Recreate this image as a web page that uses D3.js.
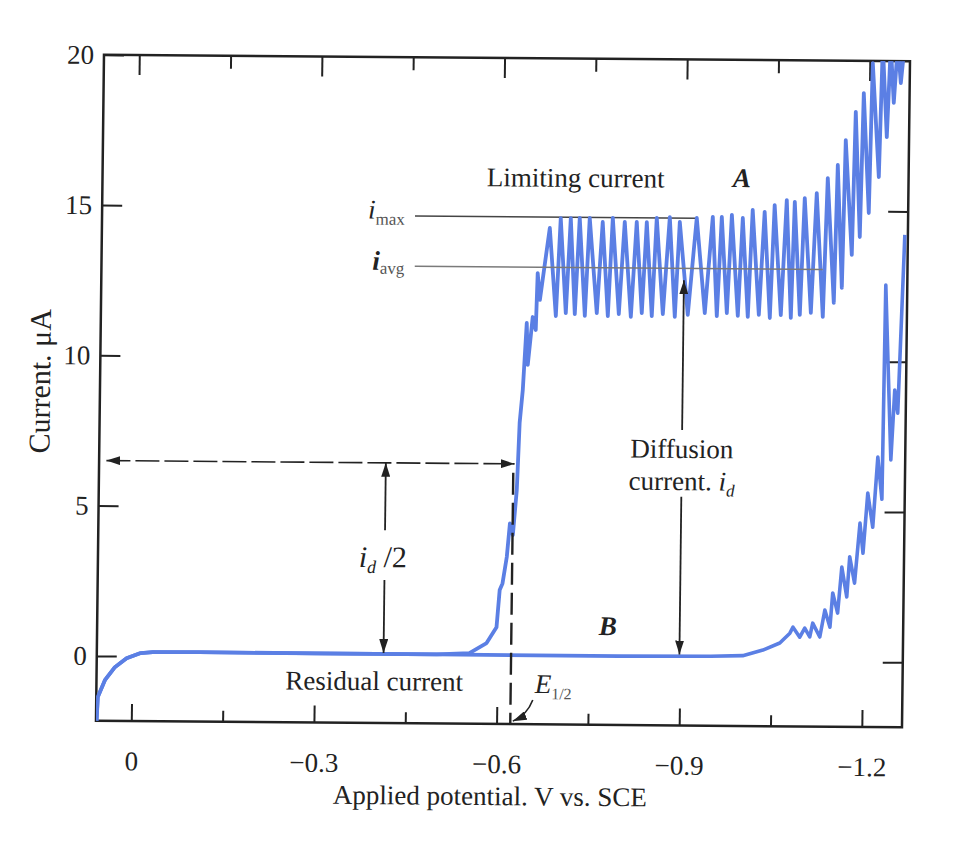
<!DOCTYPE html>
<html>
<head>
<meta charset="utf-8">
<script src="https://cdn.jsdelivr.net/npm/d3@7"></script>
<style>
  body { margin: 0; background: #fff; }
  svg { display: block; font-family: "Liberation Serif", "Times New Roman", serif; }
</style>
</head>
<body>
<svg width="960" height="861"></svg>
<script>
// potential in V vs. SCE, current in µA
const baseline = [
  [0.057,-2.16],[0.0555,-1.37],[0.044,-0.80],[0.028,-0.37],[0.009,-0.07],
  [-0.013,0.10],[-0.034,0.14],[-0.11,0.15],[-0.3,0.14],[-0.5,0.14]
];
const waveRise = [
  [-0.554,0.19],[-0.582,0.53],[-0.598,1.06],[-0.6025,2.30],[-0.607,2.52],[-0.6135,3.40],
  [-0.618,4.52],[-0.623,4.13],[-0.6286,5.63],[-0.630,6.53],[-0.632,7.87],[-0.6365,8.96],
  [-0.6417,11.19],[-0.6442,9.8],[-0.6514,11.39],[-0.6566,10.96],[-0.6587,12.85],[-0.6628,11.96]
];
const waveDrops = [
  [-0.6777,14.36],[-0.6893,11.43],[-0.6955,14.69],[-0.7056,11.53],[-0.7120,14.69],[-0.7204,11.50],
  [-0.7267,14.70],[-0.7369,11.44],[-0.7431,14.70],[-0.7565,11.54],[-0.7645,14.57],[-0.7747,11.44],
  [-0.7810,14.71],[-0.7927,11.51],[-0.8007,14.58],[-0.8125,11.42],[-0.8204,14.58],[-0.8304,11.55],
  [-0.8369,14.58],[-0.8469,11.45],[-0.8532,14.72],[-0.8650,11.52],[-0.8746,14.75],[-0.8847,11.43],
  [-0.8911,14.59],[-0.9060,11.50],[-0.9189,14.73],[-0.9339,11.57],[-0.9452,14.77],[-0.9537,11.47],
  [-0.9600,14.77],[-0.9701,11.57],[-0.9765,14.84],[-0.9882,11.48],[-0.9945,14.74],[-1.0046,11.45],
  [-1.0106,15.01],[-1.0227,11.52],[-1.0303,14.95],[-1.0408,11.42],[-1.0466,15.18],[-1.0588,11.52],
  [-1.0664,15.35],[-1.0753,11.43],[-1.0796,15.29],[-1.0900,11.53],[-1.0959,15.42],[-1.1081,11.60],
  [-1.1155,15.59],[-1.1278,11.47],[-1.1333,16.09],[-1.1456,11.94],[-1.1495,16.53],[-1.1585,12.44],
  [-1.1621,17.36],[-1.1742,13.54],[-1.1780,18.30],[-1.1870,14.14],[-1.1908,18.93],[-1.2013,14.94],
  [-1.2050,19.93],[-1.2171,16.14],[-1.2211,20.53],[-1.2294,17.47],[-1.2342,20.54],[-1.2402,18.61],
  [-1.2457,20.55],[-1.2514,19.27],[-1.2572,20.6],[-1.266,20.6]
];
const residualFlat = [[-0.8,0.13],[-0.95,0.15],[-1.003,0.18]];
const residualRise = [
  [-1.036,0.37],[-1.0636,0.61],[-1.08,0.94],[-1.085,1.14],[-1.0963,0.81],[-1.1043,1.11],
  [-1.1127,0.82],[-1.1173,1.28],[-1.1292,0.82],[-1.137,1.72],[-1.1457,1.15],[-1.1496,2.29],
  [-1.158,1.62],[-1.164,3.15],[-1.1727,2.16],[-1.1768,3.50],[-1.1852,2.62],[-1.193,4.62],
  [-1.1985,3.62],[-1.2052,5.62],[-1.214,4.49],[-1.221,6.82],[-1.2285,5.42],[-1.2307,12.55],
  [-1.2424,6.73],[-1.2475,9.06],[-1.2528,8.29],[-1.261,14.22]
];

const xMajor = [0, -0.3, -0.6, -0.9, -1.2],
      xMinor = [-0.15, -0.45, -0.75, -1.05],
      xTickLabels = ["0", "−0.3", "−0.6", "−0.9", "−1.2"];
const yLabelled = [0, 5, 10, 15, 20],
      yRightTicks = [0, 5, 10, 15];

// annotation levels (µA) and potentials (V)
const iMax = 14.72, iAvg = 13.05, iHalf = 6.5, eHalf = -0.6225;

const blue = "#5b7fe4", ink = "#222";

var svg = d3.select("svg");

var x = d3.scaleLinear().domain([0.058, -1.266]).range([100, 906]);
var y = d3.scaleLinear().domain([-2.16, 20]).range([724, 58]);

// the scanned page is slightly skewed
var g = svg.append("g").attr("transform", "matrix(1,0.008,-0.012,1,4.68,-4)");

var defs = svg.append("defs");
defs.append("marker")
    .attr("id", "arrow")
    .attr("viewBox", "0 0 14 9")
    .attr("refX", 14).attr("refY", 4.5)
    .attr("markerWidth", 14).attr("markerHeight", 9)
    .attr("markerUnits", "userSpaceOnUse")
    .attr("orient", "auto-start-reverse")
  .append("path").attr("d", "M0,0L14,4.5L0,9Z").attr("fill", ink);
defs.append("clipPath").attr("id", "plot")
  .append("rect")
    .attr("x", x(0.058)).attr("y", y(20))
    .attr("width", x(-1.266) - x(0.058)).attr("height", y(-2.16) - y(20));

const styleAxis = (sel) => {
  sel.select(".domain").remove();
  sel.attr("font-family", "Liberation Serif").attr("font-size", 27);
  sel.selectAll(".tick line").attr("stroke", ink).attr("stroke-width", 2);
  sel.selectAll(".tick text").attr("fill", ink);
};

g.append("g").attr("transform", `translate(0,${y(-2.16)})`)
    .call(d3.axisBottom(x).tickValues(xMajor).tickSize(-17).tickPadding(30)
      .tickFormat((d, i) => xTickLabels[i]))
    .call(styleAxis);
g.append("g").attr("transform", `translate(0,${y(-2.16)})`)
    .call(d3.axisBottom(x).tickValues(xMinor).tickSize(-11).tickFormat(""))
    .call(styleAxis);
g.append("g").attr("transform", `translate(0,${y(20)})`)
    .call(d3.axisTop(x).tickValues(xMajor).tickSize(-20).tickFormat(""))
    .call(styleAxis);
g.append("g").attr("transform", `translate(0,${y(20)})`)
    .call(d3.axisTop(x).tickValues(xMinor).tickSize(-13).tickFormat(""))
    .call(styleAxis);
g.append("g").attr("transform", `translate(${x(0.058)},0)`)
    .call(d3.axisLeft(y).tickValues(yLabelled).tickSize(-20).tickPadding(10))
    .call(styleAxis);
g.append("g").attr("transform", `translate(${x(-1.266)},0)`)
    .call(d3.axisRight(y).tickValues(yRightTicks).tickSize(-20).tickFormat(""))
    .call(styleAxis);

g.append("rect")
    .attr("x", x(0.058)).attr("y", y(20))
    .attr("width", x(-1.266) - x(0.058)).attr("height", y(-2.16) - y(20))
    .attr("fill", "none").attr("stroke", ink).attr("stroke-width", 2.5);

// axis titles
g.append("text")
    .attr("x", x(-0.5905)).attr("y", y(-4.86))
    .attr("text-anchor", "middle").attr("font-size", 27).attr("fill", ink)
    .text("Applied potential. V vs. SCE");
g.append("text")
    .attr("transform", `translate(${x(0.1401)},${y(9.12)}) rotate(-90)`)
    .attr("text-anchor", "middle").attr("font-size", 30).attr("fill", ink)
    .text("Current. μA");

// i_max reference line
g.append("line")
    .attr("x1", x(-0.456)).attr("x2", x(-0.918))
    .attr("y1", y(iMax)).attr("y2", y(iMax))
    .attr("stroke", "#444").attr("stroke-width", 1.3);

var line = d3.line().x(d => x(d[0])).y(d => y(d[1]));

var curves = g.append("g").attr("clip-path", "url(#plot)");
curves.append("path")
    .attr("d", line(baseline.concat(residualFlat, residualRise)))
    .attr("fill", "none").attr("stroke", blue).attr("stroke-width", 3.6)
    .attr("stroke-linejoin", "round");
curves.append("path")
    .attr("d", line(baseline.concat(waveRise, waveDrops)))
    .attr("fill", "none").attr("stroke", blue).attr("stroke-width", 3.8)
    .attr("stroke-linejoin", "round");

g.append("line")
    .attr("x1", x(-0.4566)).attr("x2", x(-1.1268))
    .attr("y1", y(iAvg)).attr("y2", y(iAvg))
    .attr("stroke", "#7a7a7a").attr("stroke-width", 1.6);

// half-wave construction
g.append("line")
    .attr("x1", x(0.046)).attr("x2", x(-0.6245))
    .attr("y1", y(iHalf)).attr("y2", y(iHalf))
    .attr("stroke", ink).attr("stroke-width", 1.6)
    .attr("stroke-dasharray", "24,5")
    .attr("marker-start", "url(#arrow)").attr("marker-end", "url(#arrow)");
g.append("line")
    .attr("x1", x(eHalf)).attr("x2", x(eHalf))
    .attr("y1", y(iHalf - 0.3)).attr("y2", y(-2.16))
    .attr("stroke", ink).attr("stroke-width", 2.4)
    .attr("stroke-dasharray", "22,8");

const arrow = (v, i1, i2) => g.append("line")
    .attr("x1", x(v)).attr("x2", x(v))
    .attr("y1", y(i1)).attr("y2", y(i2))
    .attr("stroke", ink).attr("stroke-width", 1.8)
    .attr("marker-end", "url(#arrow)");

arrow(-0.413, 4.26, iHalf);
arrow(-0.413, 2.60, 0.17);
arrow(-0.899, 7.67, iAvg - 0.4);
arrow(-0.899, 5.45, 0.2);

g.append("path")
    .attr("d", `M${x(-0.659)},${y(-1.35)} Q${x(-0.650)},${y(-1.85)} ${x(-0.6266)},${y(-2.06)}`)
    .attr("fill", "none").attr("stroke", ink).attr("stroke-width", 1.6)
    .attr("marker-end", "url(#arrow)");

// labels
const label = (v, i, anchor, size) => g.append("text")
    .attr("x", x(v)).attr("y", y(i))
    .attr("text-anchor", anchor).attr("font-size", size).attr("fill", ink);

label(-0.5733, 15.73, "start", 27).text("Limiting current");
label(-0.9921, 15.77, "middle", 27).attr("font-style", "italic").attr("font-weight", "bold").text("A");
label(-0.7809, 0.83, "middle", 27).attr("font-style", "italic").attr("font-weight", "bold").text("B");
label(-0.3983, -1.065, "middle", 27).text("Residual current");
label(-0.8988, 6.74, "middle", 27).text("Diffusion");

var cur = label(-0.8993, 5.67, "middle", 27);
cur.append("tspan").text("current. ");
cur.append("tspan").attr("font-style", "italic").text("i");
cur.append("tspan").attr("font-style", "italic").attr("font-size", 17).attr("dy", 6).text("d");

var im = label(-0.4394, 14.62, "end", 27);
im.append("tspan").attr("font-style", "italic").text("i");
im.append("tspan").attr("font-size", 17).attr("dy", 6).attr("fill", "#555").text("max");

var ia = label(-0.4394, 12.92, "end", 27);
ia.append("tspan").attr("font-style", "italic").attr("font-weight", "bold").text("i");
ia.append("tspan").attr("font-size", 17).attr("dy", 4).attr("fill", "#555").text("avg");

var ih = label(-0.410, 3.03, "middle", 30);
ih.append("tspan").attr("font-style", "italic").text("i");
ih.append("tspan").attr("font-style", "italic").attr("font-size", 18).attr("dy", 6).text("d");
ih.append("tspan").attr("dy", -6).text(" /2");

var eh = label(-0.6621, -1.12, "start", 27);
eh.append("tspan").attr("font-style", "italic").text("E");
eh.append("tspan").attr("font-size", 16).attr("dy", 6).attr("fill", "#555").text("1/2");
</script>
</body>
</html>
